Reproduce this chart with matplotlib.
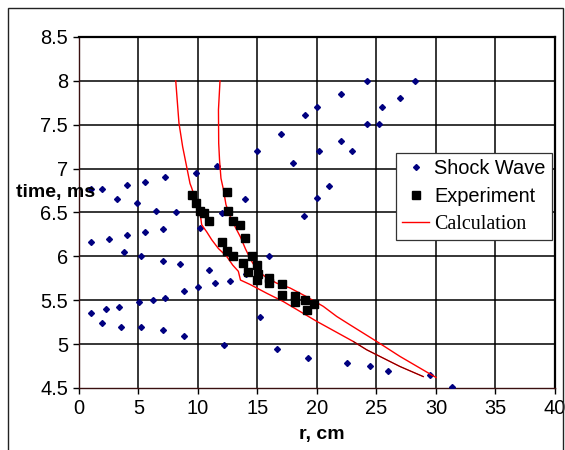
import matplotlib.pyplot as plt
from matplotlib.patches import Rectangle

# shock wave points (r, cm / time, ms)
shock_r = [0.98, 1.96, 3.22, 4.01, 4.90, 5.52, 6.47, 7.20, 8.19, 9.80,
           11.57, 12.0, 13.97, 14.95, 16.97, 10.17, 0.98, 2.52, 4.01, 5.52,
           7.03, 3.76, 5.18, 7.03, 8.49, 10.95, 11.47, 12.71, 15.99, 8.82,
           9.97, 7.20, 6.24, 5.02, 3.39, 2.24, 0.98, 1.96, 3.50, 5.18,
           7.03, 8.82, 12.18, 15.24, 16.66, 19.24, 22.52, 24.48, 25.99, 29.47,
           31.34, 24.18, 28.24, 21.99, 26.95, 20.03, 25.46, 18.97, 24.18, 25.18,
           21.99, 22.97, 20.19, 17.98, 20.98, 20.0, 18.93, 14.03]
shock_t = [6.77, 6.77, 6.65, 6.81, 6.61, 6.85, 6.52, 6.91, 6.51, 6.95,
           7.03, 6.49, 6.655, 7.205, 7.40, 6.32, 6.16, 6.20, 6.245, 6.28,
           6.31, 6.055, 6.0, 5.95, 5.91, 5.845, 5.695, 5.72, 6.0, 5.61,
           5.65, 5.52, 5.50, 5.485, 5.42, 5.395, 5.35, 5.245, 5.20, 5.19,
           5.16, 5.095, 4.99, 5.305, 4.945, 4.84, 4.78, 4.75, 4.69, 4.65,
           4.51, 8.0, 8.0, 7.85, 7.805, 7.70, 7.70, 7.61, 7.505, 7.505,
           7.31, 7.205, 7.205, 7.06, 6.80, 6.66, 6.46, 5.80]

# experiment points
exp_r = [9.51, 9.81, 10.19, 10.53, 10.95, 12.45, 12.55, 12.98, 13.54, 13.99,
         12.02, 12.46, 12.97, 14.51, 13.81, 14.24, 14.95, 15.04, 14.98, 15.99,
         15.99, 17.08, 17.03, 18.11, 18.19, 18.97, 19.20, 19.71]
exp_t = [6.70, 6.61, 6.52, 6.49, 6.40, 6.73, 6.52, 6.40, 6.355, 6.21,
         6.16, 6.06, 6.0, 6.005, 5.92, 5.82, 5.905, 5.80, 5.725, 5.75,
         5.695, 5.685, 5.56, 5.545, 5.475, 5.50, 5.39, 5.46]

# calculation, two branches
calc1_r = [8.13, 8.40, 8.71, 9.05, 9.33, 9.47, 9.89, 10.21, 10.31, 10.73,
           11.15, 11.71, 12.41, 12.92, 13.39, 13.57, 14.37, 15.77, 17.17, 19.97,
           23.05, 24.18, 26.97, 28.93]
calc1_t = [8.0, 7.52, 7.25, 7.02, 6.83, 6.78, 6.61, 6.46, 6.36, 6.28,
           6.19, 6.09, 6.0, 5.90, 5.83, 5.73, 5.68, 5.58, 5.485, 5.26,
           5.03, 4.935, 4.745, 4.63]
calc2_r = [11.85, 11.72, 11.74, 11.81, 11.93, 12.14, 12.35, 12.69, 13.11, 13.57,
           13.99, 14.44, 14.93, 15.63, 16.61, 17.73, 19.13, 20.53, 21.66, 22.77,
           25.02, 26.97, 30.0]
calc2_t = [8.0, 7.67, 7.29, 7.10, 6.89, 6.76, 6.59, 6.46, 6.34, 6.22,
           6.085, 5.96, 5.85, 5.77, 5.695, 5.64, 5.54, 5.43, 5.315, 5.22,
           5.03, 4.86, 4.62]

x_ticks = [0, 5, 10, 15, 20, 25, 30, 35, 40]
y_ticks = [4.5, 5, 5.5, 6, 6.5, 7, 7.5, 8, 8.5]
y_labels = ['4.5', '5', '5.5', '6', '6.5', '7', '7.5', '8', '8.5']

plt.rcParams['font.family'] = ['Liberation Sans', 'DejaVu Sans']

fig = plt.figure(figsize=(5.65, 4.5), dpi=100)
ax = fig.add_axes([0.1398, 0.1378, 0.8425, 0.780])

# grid lines drawn at the tick positions
for xv in x_ticks[1:-1]:
    ax.axvline(xv, color='black', linewidth=1.1, zorder=1)
for yv in y_ticks[1:-1]:
    ax.axhline(yv, color='black', linewidth=1.1, zorder=1)

ax.plot(shock_r, shock_t, linestyle='none', marker='D', markersize=3,
        color='#000080', label='Shock Wave', zorder=3)
ax.plot(calc1_r, calc1_t, color='#ff0000', linewidth=1.0, zorder=4,
        label='Calculation')
ax.plot(calc2_r, calc2_t, color='#ff0000', linewidth=1.0, zorder=4)
ax.plot(calc1_r[-4:], calc1_t[-4:], color='#600000', linewidth=0.6, zorder=4)
ax.plot(exp_r, exp_t, linestyle='none', marker='s', markersize=5.6,
        color='black', label='Experiment', zorder=5)

ax.set_xlim(0, 40)
ax.set_ylim(4.5, 8.5)
ax.set_xticks(x_ticks)
ax.set_yticks(y_ticks)
ax.set_xticklabels([str(v) for v in x_ticks])
ax.set_yticklabels(y_labels)
ax.tick_params(direction='out', length=4, width=1, labelsize=14.4,
               colors='black', pad=4)

for side in ['top', 'right']:
    ax.spines[side].set_linewidth(1.6)
    ax.spines[side].set_color('black')
for side in ['left', 'bottom']:
    ax.spines[side].set_linewidth(1.0)
    ax.spines[side].set_color('#3a1010')

handles, labels = ax.get_legend_handles_labels()
order = [0, 2, 1]
leg = ax.legend([handles[i] for i in order], [labels[i] for i in order],
                loc='upper left', bbox_to_anchor=(0.667, 0.6695),
                borderaxespad=0, fancybox=False, framealpha=1,
                edgecolor='#333333', fontsize=14.4, numpoints=1,
                handlelength=1.35, handletextpad=0.25, borderpad=0.3,
                labelspacing=0.45)
leg.get_frame().set_linewidth(0.9)
leg.set_zorder(10)
leg.get_texts()[2].set_family(['Liberation Serif', 'DejaVu Serif'])

fig.text(16 / 565, 1 - 193 / 450, 'time, ms', fontsize=14, fontweight='bold',
         ha='left', va='center')
fig.text(322 / 565, 1 - 434 / 450, 'r, cm', fontsize=14, fontweight='bold',
         ha='center', va='center')

frame = Rectangle((8 / 565, -0.1), 555 / 565, 1.1 - 8 / 450,
                  transform=fig.transFigure, fill=False, edgecolor='#222222',
                  linewidth=1.0, clip_on=False)
fig.patches.append(frame)

fig.savefig('out.png', dpi=100)
